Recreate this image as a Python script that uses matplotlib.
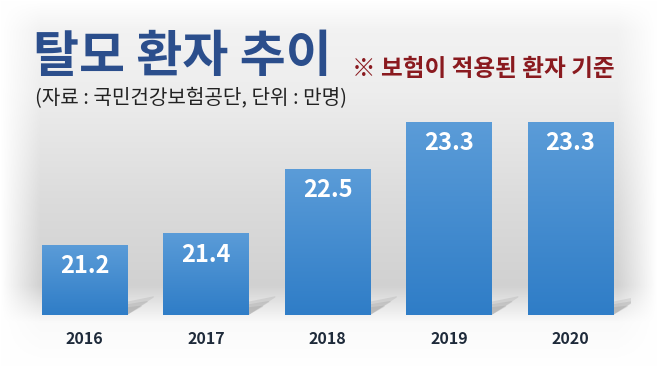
import numpy as np
import matplotlib.pyplot as plt
from matplotlib.patches import Polygon

plt.rcParams['font.family'] = ['Noto Sans CJK KR', 'DejaVu Sans']

# data
years = ["2016", "2017", "2018", "2019", "2020"]
patients = [21.2, 21.4, 22.5, 23.3, 23.3]   # 만명
base = 20.0

title = "탈모 환자 추이"
note = "※ 보험이 적용된 환자 기준"
source = "(자료 : 국민건강보험공단, 단위 : 만명)"

W, H = 658, 367
fig = plt.figure(figsize=(W / 100, H / 100), dpi=100)

# background: soft gray gradient with white vignette
bg_ax = fig.add_axes([0, 0, 1, 1])
yy = np.linspace(0, 1, 200)[:, None]
xx = np.linspace(0, 1, 300)[None, :]
vert = np.interp(yy, [0, 0.08, 0.25, 0.55, 0.78, 0.88, 1.0],
                 [0.0, 0.05, 0.07, 0.14, 0.18, 0.02, 0.0])
horiz = np.clip(np.minimum(xx, 1 - xx) / 0.06, 0, 1)
shade = 1 - vert * horiz
bg_ax.imshow(np.dstack([shade, shade, shade]), extent=[0, 1, 0, 1],
             aspect='auto', origin='upper')
bg_ax.set_axis_off()

# chart axes: x from 23.75px to 631.25px, y from 315px (20.0) to 100px
ax = fig.add_axes([23.75 / W, (H - 315) / H, 607.5 / W, 215 / H])
ax.set_xlim(-0.5, 4.5)
ax.set_ylim(base, base + 215 / 58.6)
ax.set_axis_off()

x = np.arange(len(years))
bw = 0.70
bars = ax.bar(x, np.array(patients) - base, bottom=base, width=bw,
              color='none', edgecolor='none', zorder=3)

grad = np.linspace(0, 1, 100)[:, None]
top_c = np.array([0x5b, 0x9c, 0xd8]) / 255
bot_c = np.array([0x2f, 0x7d, 0xc7]) / 255
img = top_c * (1 - grad[..., None]) + bot_c * grad[..., None]

for i, b in enumerate(bars):
    x0, w, h = b.get_x(), b.get_width(), b.get_height()
    # shadow behind bar base
    for k, a in enumerate([0.12, 0.12, 0.12]):
        dx = 0.22 - k * 0.05
        dy = 0.30 - k * 0.08
        ax.add_patch(Polygon([(x0 + w, base), (x0 + w + dx, base + dy),
                              (x0 + w + dx, base + dy + 0.02), (x0 + 0.2, base + 0.02)],
                             closed=True, facecolor='#555555', alpha=a,
                             edgecolor='none', zorder=2))
    im = ax.imshow(img, extent=[x0, x0 + w, base, base + h], aspect='auto',
                   origin='upper', zorder=3)
    im.set_clip_path(b)
    ax.text(x[i], patients[i] - 0.37, f"{patients[i]:.1f}", ha='center', va='center',
            color='white', fontsize=17, fontweight='bold', zorder=4)
    ax.text(x[i], base - 0.41, years[i], ha='center', va='center',
            color='#1e2a3a', fontsize=11.5, fontweight='bold', clip_on=False)

ax.set_xlim(-0.5, 4.5)
ax.set_ylim(base, base + 215 / 58.6)

fig.text(33 / W, 1 - 57 / H, title, ha='left', va='center', color='#2b4e8c',
         fontsize=36, fontweight='bold')
fig.text(352 / W, 1 - 69 / H, note, ha='left', va='center', color='#8a1a1f',
         fontsize=17, fontweight='bold')
fig.text(35 / W, 1 - 99 / H, source, ha='left', va='center', color='#222222',
         fontsize=14.5)

fig.savefig('out.png', dpi=100)
